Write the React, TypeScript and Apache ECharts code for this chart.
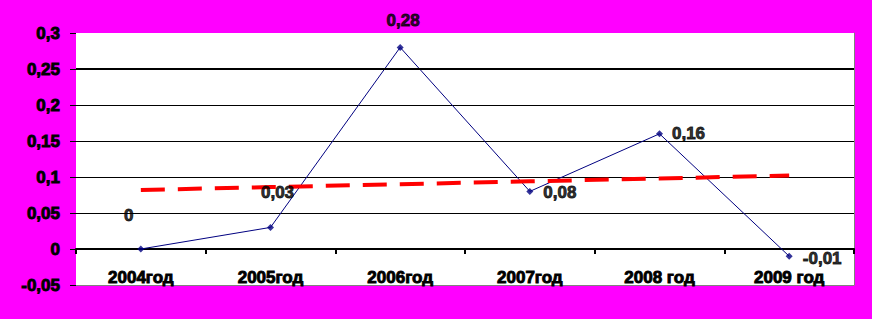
import React, { useEffect, useRef } from 'react';
import * as echarts from 'echarts';

const categories = ['2004год', '2005год', '2006год', '2007год', '2008 год', '2009 год'];
const values = [0, 0.03, 0.28, 0.08, 0.16, -0.01];
const trendValues = [0.082, 0.086, 0.09, 0.094, 0.098, 0.102];
const yMin = -0.05;
const yMax = 0.3;
const yInterval = 0.05;
const emphasizedGridValue = 0.25;

// label offsets (styling) relative to each point
const labelOffsets: number[][] = [[-12, -34], [7, -35], [3, -27], [30, 1], [29, 0], [33, 2]];

const FONT = '"Liberation Sans", Arial, sans-serif';
const FS = 17;
const heavy = { textBorderColor: '#000', textBorderWidth: 0.9 };
const fmt = (v: number) => String(Math.round(v * 100) / 100).replace('.', ',');

export default function App() {
  const ref = useRef<HTMLDivElement>(null);
  useEffect(() => {
    document.body.style.margin = '0';
    const chart = echarts.init(ref.current!, null, { renderer: 'svg' });
    chart.setOption({
      animation: false,
      backgroundColor: '#FF00FF',
      grid: {
        left: 76,
        right: 18,
        top: 33,
        bottom: 34,
        show: true,
        backgroundColor: '#ffffff',
        borderWidth: 0,
      },
      xAxis: {
        type: 'category',
        data: categories,
        boundaryGap: true,
        position: 'bottom',
        offset: -36,
        axisLine: { onZero: false, lineStyle: { color: '#000', width: 2 } },
        axisTick: { show: true, length: 5, interval: 0, lineStyle: { color: '#000', width: 2 } },
        axisLabel: {
          interval: 0,
          margin: 20,
          color: '#000',
          fontWeight: 'bold',
          fontSize: FS,
          fontFamily: FONT,
          ...heavy,
        },
        splitLine: { show: false },
      },
      yAxis: [
        {
          type: 'value',
          min: yMin,
          max: yMax,
          interval: yInterval,
          axisLine: { show: false },
          axisTick: { show: true, length: 6, lineStyle: { color: '#000' } },
          axisLabel: {
            margin: 16,
            color: '#000',
            fontWeight: 'bold',
            fontSize: FS,
            fontFamily: FONT,
            ...heavy,
            formatter: (v: number) => fmt(v),
          },
          splitLine: {
            show: true,
            lineStyle: {
              width: 1,
              color: ['#808080', '#000', '#000', '#000', '#000', '#000', '#000', '#ffffff'],
            },
          },
        },
        {
          type: 'value',
          position: 'right',
          min: yMin,
          max: yMax,
          interval: yInterval,
          axisLine: { show: true, lineStyle: { color: '#808080', width: 1 } },
          axisTick: { show: false },
          axisLabel: { show: false },
          splitLine: { show: false },
        },
      ],
      series: [
        {
          type: 'line',
          data: values,
          z: 2,
          symbol: 'none',
          lineStyle: { color: '#000080', width: 1 },
          markLine: {
            silent: true,
            symbol: 'none',
            label: { show: false },
            lineStyle: { color: '#000', width: 2, type: 'solid' },
            data: [{ yAxis: emphasizedGridValue }],
          },
        },
        {
          type: 'line',
          data: trendValues,
          z: 3,
          symbol: 'none',
          lineStyle: { color: '#FF0000', width: 4, type: [24, 13] },
        },
        {
          type: 'scatter',
          z: 4,
          symbol: 'diamond',
          symbolSize: 7,
          itemStyle: { color: '#000080' },
          data: values.map((v, i) => ({
            value: v,
            label: { offset: labelOffsets[i] },
          })),
          label: {
            show: true,
            position: 'inside',
            color: '#000',
            fontWeight: 'bold',
            fontSize: FS,
            fontFamily: FONT,
            ...heavy,
            formatter: (p: any) => fmt(p.value),
          },
        },
      ],
    });
    return () => chart.dispose();
  }, []);
  return <div ref={ref} style={{ width: 872, height: 319 }} />;
}
